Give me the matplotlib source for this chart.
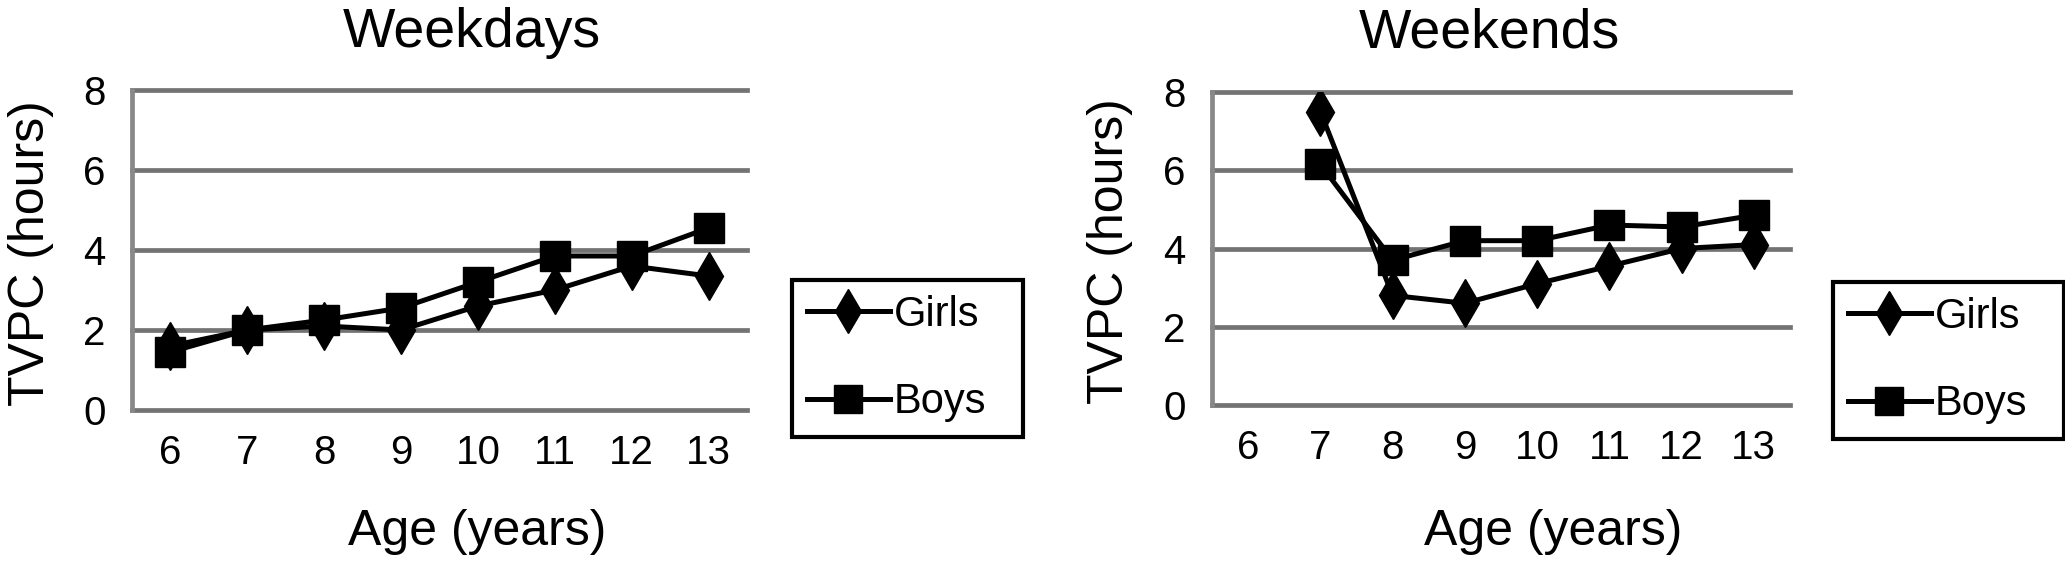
import numpy as np
import matplotlib
matplotlib.use("Agg")
import matplotlib.pyplot as plt

plt.rcParams['font.family'] = ['Liberation Sans', 'DejaVu Sans']

# data (hours of TV/PC per day)
ages = [6, 7, 8, 9, 10, 11, 12, 13]
weekday_girls = [1.6, 2.0, 2.1, 2.0, 2.6, 3.0, 3.6, 3.35]
weekday_boys = [1.45, 2.0, 2.25, 2.55, 3.2, 3.85, 3.85, 4.55]
weekend_girls = [np.nan, 7.5, 2.8, 2.6, 3.1, 3.55, 4.0, 4.1]
weekend_boys = [np.nan, 6.15, 3.7, 4.2, 4.2, 4.6, 4.55, 4.85]
yticks = [0, 2, 4, 6, 8]

W, H = 2065, 562
fig = plt.figure(figsize=(W / 100, H / 100), dpi=100)

def fx(px):
    return px / W

def fy(py):
    return 1 - py / H

def panel(left, right, top, bottom, girls, boys, title, tx, xlx, ylx, legx, legy):
    ax = fig.add_axes([fx(left), fy(bottom), fx(right - left), fy(top) - fy(bottom)])
    ax.plot(ages, girls, color='black', lw=3.6, marker='d', ms=24, label='Girls')
    ax.plot(ages, boys, color='black', lw=3.6, marker='s', ms=21, label='Boys')
    ax.set_xlim(5.5, 13.5)
    ax.set_ylim(0, 8)
    ax.set_xticks(ages)
    ax.set_yticks(yticks)
    ax.tick_params(length=0, labelsize=29)
    ax.tick_params(axis='x', pad=17)
    ax.tick_params(axis='y', pad=19)
    ax.yaxis.grid(True, color='#737373', lw=3.4)
    for gl in ax.get_ygridlines():
        gl.set_clip_on(False)
    ax.set_axisbelow(True)
    for s in ['top', 'right', 'bottom']:
        ax.spines[s].set_visible(False)
    ax.spines['left'].set_color('#888888')
    ax.spines['left'].set_linewidth(3.4)

    fig.text(fx(tx), fy(47), title, fontsize=40, ha='center', va='baseline')
    fig.text(fx(xlx), fy(545), 'Age (years)', fontsize=36, ha='center', va='baseline')
    fig.text(fx(ylx), fy((top + bottom) / 2 + 3), 'TVPC (hours)', fontsize=36,
             rotation=90, ha='center', va='center')

    leg = ax.legend(loc='upper left', bbox_to_anchor=(fx(legx), fy(legy), fx(231), 0),
                    bbox_transform=fig.transFigure, mode='expand', borderaxespad=0,
                    fontsize=30, handlelength=2.0, handletextpad=0.1,
                    labelspacing=1.15, borderpad=0.35, fancybox=False,
                    edgecolor='black', framealpha=1, markerscale=0.95)
    leg.get_frame().set_linewidth(3)
    return ax

panel(132, 747, 90, 410, weekday_girls, weekday_boys, 'Weekdays', 472, 477, 31, 792, 280)
panel(1212, 1790, 92, 405, weekend_girls, weekend_boys, 'Weekends', 1489, 1553, 1110, 1833, 282)

fig.savefig('out.png', dpi=100)
